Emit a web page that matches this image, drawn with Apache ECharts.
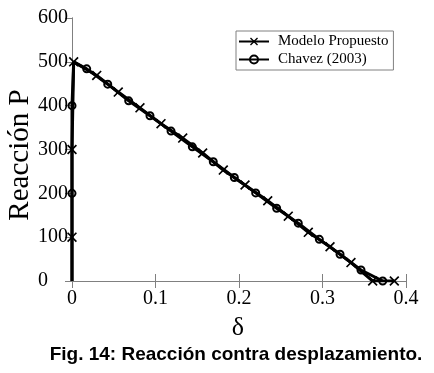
<!DOCTYPE html>
<html><head><meta charset="utf-8">
<script src="https://cdn.jsdelivr.net/npm/echarts@6/dist/echarts.min.js"></script>
<style>html,body{margin:0;padding:0;background:#fff}#c{width:434px;height:373px}</style>
</head><body><div id="c"></div>
<script>
var xTicks = [0, 0.1, 0.2, 0.3, 0.4];
var yTicks = [0, 100, 200, 300, 400, 500, 600];
var modeloX = [0, 0, 0, 0.002, 0.0296, 0.0554, 0.0814, 0.1066, 0.1326, 0.1565, 0.1812, 0.2072, 0.2344, 0.2590, 0.2830, 0.3090, 0.3341, 0.3601, 0.386];
var modeloY = [0, 100, 300, 500, 469, 431, 395, 359, 326, 292, 253, 219, 183, 148, 111, 78, 42, 0, 0];
var chavezX = [0, 0, 0, 0.002, 0.0176, 0.0428, 0.0679, 0.0934, 0.1186, 0.1441, 0.1692, 0.1944, 0.2200, 0.2451, 0.2710, 0.2962, 0.3210, 0.3461, 0.3721];
var chavezY = [0, 200, 400, 500, 484, 449, 411, 377, 342, 306, 272, 236, 201, 166, 132, 95, 61, 25, 0];
var modeloHidden = [0];
var chavezHidden = [0, 3];

var serif = '"Liberation Serif", "Times New Roman", serif';
var xSym = 'path://M0,1.2 L1.2,0 L10,8.8 L8.8,10 Z M8.8,0 L10,1.2 L1.2,10 L0,8.8 Z';

function build(xs, ys, hidden) {
  return xs.map(function (x, i) {
    var d = { value: [x, ys[i]] };
    if (hidden.indexOf(i) >= 0) d.symbol = 'none';
    return d;
  });
}

var chart = echarts.init(document.getElementById('c'), null, { renderer: 'canvas' });
var axisGray = '#808080';
chart.setOption({
  animation: false,
  backgroundColor: '#fff',
  grid: { left: 72, top: 18, right: 28, bottom: 92 },
  legend: {
    left: 236, top: 31, orient: 'vertical',
    backgroundColor: '#fff', borderColor: axisGray, borderWidth: 1,
    padding: [3, 5, 3, 2], itemGap: 3, itemWidth: 30, itemHeight: 10,
    textStyle: { fontFamily: serif, fontSize: 15, color: '#000', padding: [0, 0, 0, 4] },
    data: ['Modelo Propuesto', 'Chavez (2003)']
  },
  xAxis: [{
    type: 'value', min: 0, max: 0.4, interval: 0.1, position: 'bottom',
    axisLine: { show: true, lineStyle: { color: axisGray, width: 1 } },
    axisTick: { show: true, inside: true, length: 7, lineStyle: { color: axisGray } },
    splitLine: { show: false },
    axisLabel: { margin: 8, fontFamily: serif, fontSize: 20, color: '#000',
      formatter: function (v) { return String(Math.round(v * 10) / 10); } }
  }, {
    type: 'value', min: 0, max: 0.4, interval: 0.1, position: 'top',
    axisLine: { show: true, lineStyle: { color: axisGray, width: 1 } },
    axisTick: { show: true, inside: true, length: 7, lineStyle: { color: axisGray } },
    splitLine: { show: false }, axisLabel: { show: false }
  }],
  yAxis: [{
    type: 'value', min: 0, max: 600, interval: 100, position: 'left',
    axisLine: { show: true, lineStyle: { color: axisGray, width: 1 } },
    axisTick: { show: false },
    splitLine: { show: false },
    axisLabel: { margin: 4, fontFamily: serif, fontSize: 20, color: '#000',
      formatter: function (v) { return v === 0 ? '0    ' : String(v); } }
  }, {
    type: 'value', min: 0, max: 600, interval: 100, position: 'right',
    axisLine: { show: true, lineStyle: { color: axisGray, width: 1 } },
    axisTick: { show: true, inside: true, length: 7, lineStyle: { color: axisGray } },
    splitLine: { show: false }, axisLabel: { show: false }
  }],
  graphic: [
    { type: 'text', x: 20, y: 155, rotation: Math.PI / 2,
      style: { text: 'Reacción P', fontFamily: serif, fontSize: 29, fill: '#000', align: 'center', verticalAlign: 'middle' } },
    { type: 'text', x: 238, y: 328,
      style: { text: 'δ', fontFamily: serif, fontSize: 26, fill: '#000', align: 'center', verticalAlign: 'middle' } },
    { type: 'text', x: 236, y: 355,
      style: { text: 'Fig. 14: Reacción contra desplazamiento.', fontFamily: '"Liberation Sans", Arial, sans-serif', fontWeight: 'bold', fontSize: 19, fill: '#000', align: 'center', verticalAlign: 'middle' } }
  ],
  series: [{
    name: 'Modelo Propuesto', type: 'line', xAxisIndex: 0, yAxisIndex: 0,
    data: build(modeloX, modeloY, modeloHidden),
    symbol: xSym, symbolSize: 10, showAllSymbol: true,
    lineStyle: { color: '#000', width: 3 },
    itemStyle: { color: '#000' }, z: 2
  }, {
    name: 'Chavez (2003)', type: 'line', xAxisIndex: 0, yAxisIndex: 0,
    data: build(chavezX, chavezY, chavezHidden),
    symbol: 'circle', symbolSize: 7, showAllSymbol: true,
    lineStyle: { color: '#000', width: 3 },
    itemStyle: { color: 'rgba(0,0,0,0)', borderColor: '#000', borderWidth: 2 }, z: 3
  }]
});
</script></body></html>
